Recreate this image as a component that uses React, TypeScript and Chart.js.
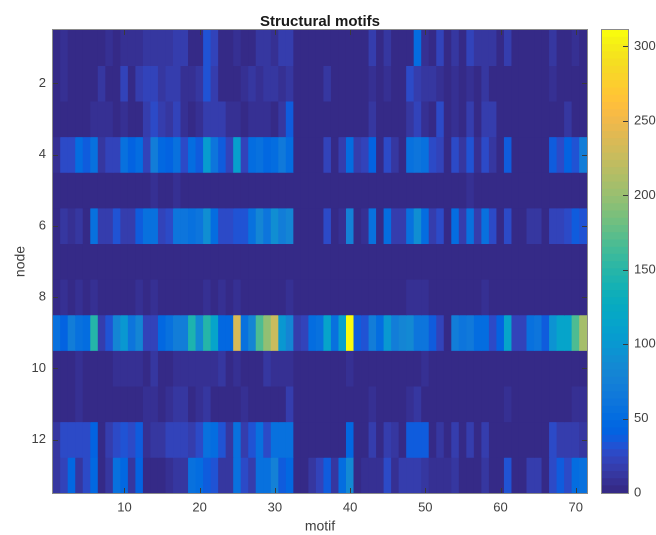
import React, { useEffect, useRef } from "react";
import { Chart, registerables } from "chart.js";

Chart.register(...registerables);

const motifs = Array.from({ length: 71 }, (_, i) => String(i + 1));
const nodeTicks = [2, 4, 6, 8, 10, 12];
const motifTicks = [10, 20, 30, 40, 50, 60, 70];
const colorbarTicks = [0, 50, 100, 150, 200, 250, 300];
const colorMax = 311;

const row1 = [3,8,3,3,3,3,3,8,2,9, 9,9,12,12,12,12,16,16,2,4, 30,24,2,2,6,2,2,12,12,5, 18,18,0,0,0,0,0,0,0,0, 0,0,18,2,12,2,2,4,50,6, 4,21,2,12,2,21,12,12,12,2, 16,1,1,1,1,1,12,2,2,8,1];
const row2 = [3,8,3,3,3,3,12,3,3,21, 3,15,20,24,10,16,18,8,8,11, 30,15,3,3,4,8,13,6,12,13, 5,11,0,0,0,0,10,0,0,0, 0,0,6,0,8,0,0,26,16,12, 12,8,3,8,2,6,3,12,0,0, 0,0,0,0,0,0,6,0,0,0,0];
const row3 = [1,1,1,1,1,8,8,8,2,5, 4,4,18,26,18,10,24,6,2,8, 15,15,15,8,6,3,8,8,8,4, 12,36,0,0,0,0,0,0,0,0, 0,0,12,0,0,0,0,10,21,6, 3,26,1,5,2,18,2,16,16,0, 0,0,0,0,0,0,0,0,12,0,0];
const row4 = [5,28,28,50,35,55,12,24,24,58, 40,52,22,72,45,42,55,25,52,35, 105,62,35,20,110,22,50,55,48,50, 65,50,0,0,0,2,20,2,15,52, 18,22,40,0,28,14,0,58,60,58, 25,22,0,25,10,30,8,28,14,0, 38,0,0,0,0,0,35,25,42,32,72];
const row5 = [0,0,0,0,0,0,0,0,0,0, 0,0,0,5,0,0,6,0,0,0, 0,0,0,0,0,0,0,0,0,0, 0,0,0,0,0,0,0,0,0,0, 0,0,0,0,0,0,0,0,0,0, 0,0,0,0,0,6,0,0,0,0, 0,0,0,0,0,0,0,0,0,0,0];
const row6 = [4,10,8,12,4,58,16,16,32,18, 18,38,55,55,20,28,60,60,55,62, 88,52,28,28,30,30,55,78,62,92, 70,82,0,0,0,0,28,0,8,75, 0,8,58,0,50,15,15,58,92,52, 18,25,0,52,15,58,18,55,25,0, 28,0,0,14,14,2,22,20,28,35,30];
const row7 = [0,0,0,0,0,0,0,0,0,0, 0,0,0,0,0,0,0,0,0,0, 0,0,0,0,0,0,0,0,0,0, 0,0,0,0,0,0,0,0,0,0, 0,0,0,0,0,0,0,0,0,0, 0,0,0,0,0,0,0,0,0,0, 0,0,0,0,0,0,0,0,0,0,0];
const row8 = [0,5,0,6,0,7,0,0,0,0, 0,6,0,6,0,0,0,0,0,0, 7,0,6,0,6,0,0,0,0,0, 0,9,0,0,0,0,0,0,0,0, 0,0,0,0,0,0,0,9,9,9, 0,0,0,0,0,0,0,7,0,0, 0,0,0,0,0,0,0,0,0,0,0];
const row9 = [55,42,72,55,52,150,18,32,78,100, 62,78,22,22,48,55,70,70,145,85, 150,115,45,45,235,55,80,170,195,225, 100,80,15,22,52,55,115,55,110,311, 38,30,70,50,100,70,80,85,62,62, 35,20,0,70,62,68,52,52,25,42, 115,20,20,55,60,35,95,112,112,170,205];
const row10 = [1,1,1,6,3,3,3,3,7,5, 5,7,2,10,4,4,7,5,5,5, 7,7,10,3,7,3,3,3,10,7, 6,6,0,0,0,0,0,0,0,6, 0,0,0,0,0,0,0,0,0,6, 0,0,0,0,0,0,0,0,0,0, 0,0,0,0,0,0,0,0,0,0,0];
const row11 = [1,1,1,5,1,1,1,1,1,1, 1,1,9,6,3,7,13,13,2,6, 10,4,4,4,2,7,2,2,4,4, 4,15,0,0,0,0,0,0,0,0, 0,0,6,0,0,0,0,7,13,0, 0,0,0,0,0,0,0,0,0,0, 7,0,0,0,0,0,0,0,0,9,9];
const row12 = [10,28,28,28,25,40,4,15,25,32, 25,35,5,14,12,20,20,20,15,28, 58,50,30,12,58,18,32,55,25,58, 55,55,0,0,0,0,0,0,0,48, 0,0,15,0,15,10,0,38,38,36, 0,10,0,15,0,15,0,18,0,0, 0,0,0,0,0,0,28,18,18,18,10];
const row13 = [12,20,45,12,28,48,4,12,58,48, 14,42,2,2,2,8,14,14,55,52, 35,30,10,10,55,25,15,55,58,75, 35,45,2,2,14,22,38,10,50,85, 4,8,8,8,25,8,18,18,18,12, 5,5,5,12,3,3,3,10,3,3, 30,3,3,16,16,4,28,38,28,52,55];
const rows = [row1, row2, row3, row4, row5, row6, row7, row8, row9, row10, row11, row12, row13];

const parula: number[][] = [
  [.2081,.1663,.5292],[.2116,.1898,.5777],[.2123,.2138,.627],[.2081,.2386,.6771],[.1959,.2645,.7279],[.1707,.2919,.7792],[.1253,.3242,.8303],[.0591,.3598,.8683],
  [.0117,.3875,.882],[.006,.4086,.8828],[.0165,.4266,.8786],[.0329,.443,.872],[.0498,.4586,.8641],[.0629,.4737,.8554],[.0723,.4887,.8467],[.0779,.504,.8384],
  [.0793,.52,.8312],[.0749,.5375,.8263],[.0641,.557,.824],[.0488,.5772,.8228],[.0343,.5966,.8199],[.0265,.6137,.8135],[.0239,.6287,.8038],[.0231,.6418,.7913],
  [.0228,.6535,.7768],[.0267,.6642,.7607],[.0384,.6743,.7436],[.059,.6838,.7254],[.0843,.6928,.7062],[.1133,.7015,.6859],[.1453,.7098,.6646],[.1801,.7177,.6424],
  [.2178,.725,.6193],[.2586,.7317,.5954],[.3022,.7376,.5712],[.3482,.7424,.5473],[.3953,.7459,.5244],[.442,.7481,.5033],[.4871,.7491,.484],[.53,.7491,.4661],
  [.5709,.7485,.4494],[.6099,.7473,.4337],[.6473,.7456,.4188],[.6834,.7435,.4044],[.7184,.7411,.3905],[.7525,.7384,.3768],[.7858,.7356,.3633],[.8185,.7327,.3498],
  [.8507,.7299,.336],[.8824,.7274,.3217],[.9139,.7258,.3063],[.945,.7261,.2886],[.9739,.7314,.2666],[.9938,.7455,.2403],[.999,.7653,.2164],[.9955,.7861,.1967],
  [.988,.8066,.1794],[.9789,.8271,.1633],[.9697,.8481,.1475],[.9626,.8705,.1309],[.9589,.8949,.1132],[.9598,.9218,.0948],[.9661,.9514,.0755],[.9763,.9831,.0538],
];

const levelColor = (i: number) => {
  const c = parula[Math.min(63, Math.max(0, i))];
  return `rgb(${Math.round(c[0] * 255)},${Math.round(c[1] * 255)},${Math.round(c[2] * 255)})`;
};
const valueColor = (v: number) => levelColor(Math.floor((v / colorMax) * 64));

const FONT = "'Liberation Sans', Arial, sans-serif";
const INK = "#404040";
const BOX = "#8a8a8a";

const boxPlugin = {
  id: "matlabBox",
  afterDatasetsDraw(chart: any) {
    const { ctx, chartArea: a, scales } = chart;
    ctx.save();
    ctx.lineWidth = 1;
    ctx.strokeStyle = "#3a3a3a";
    const len = 5;
    ctx.beginPath();
    const yScale = scales.y;
    const xScale = scales.x;
    if (xScale.options.display !== false) {
      motifTicks.forEach((t) => {
        const x = Math.round(xScale.getPixelForValue(t - 1)) + 0.5;
        ctx.moveTo(x, a.bottom);
        ctx.lineTo(x, a.bottom - len);
        ctx.moveTo(x, a.top);
        ctx.lineTo(x, a.top + len);
      });
    }
    yScale.ticks.forEach((t: any) => {
      const y = Math.round(yScale.getPixelForValue(t.value)) + 0.5;
      if (xScale.options.display !== false) {
        ctx.moveTo(a.left, y);
        ctx.lineTo(a.left + len, y);
      }
      ctx.moveTo(a.right, y);
      ctx.lineTo(a.right - len, y);
    });
    ctx.stroke();
    ctx.strokeStyle = BOX;
    ctx.strokeRect(Math.round(a.left) - 0.5, Math.round(a.top) - 0.5, a.right - a.left + 1, a.bottom - a.top + 1);
    ctx.restore();
  },
};

export default function App() {
  const mainRef = useRef<HTMLCanvasElement>(null);
  const barRef = useRef<HTMLCanvasElement>(null);

  useEffect(() => {
    const main = new Chart(mainRef.current!, {
      type: "bar",
      data: {
        labels: motifs,
        datasets: rows.map((row, r) => ({
          label: `node ${r + 1}`,
          stack: "heat",
          data: row.map(() => [r + 0.5, r + 1.5]) as any,
          backgroundColor: row.map(valueColor),
          borderWidth: 0,
          barPercentage: 1,
          categoryPercentage: 1,
        })),
      },
      options: {
        responsive: false,
        animation: false,
        devicePixelRatio: 2,
        layout: { padding: { top: 0, right: 69, left: 0, bottom: 0 } },
        plugins: {
          legend: { display: false },
          tooltip: { enabled: false },
          title: {
            display: true,
            text: "Structural motifs",
            fullSize: false,
            color: "#1a1a1a",
            font: { family: FONT, size: 15, weight: "bold", lineHeight: 1.2 },
            padding: { top: 13, bottom: -1 },
          },
        },
        scales: {
          x: {
            type: "category",
            stacked: true,
            grid: { display: false, drawTicks: false },
            border: { display: false },
            afterFit: (s: any) => { s.height = 42; },
            ticks: {
              autoSkip: false,
              maxRotation: 0,
              padding: 7,
              color: INK,
              font: { family: FONT, size: 13 },
              callback: (_v: any, i: number) => (motifTicks.includes(i + 1) ? String(i + 1) : ""),
            },
            title: { display: true, text: "motif", color: INK, font: { family: FONT, size: 14 }, padding: { top: 0, bottom: 0 } },
          },
          y: {
            type: "linear",
            stacked: false,
            reverse: true,
            min: 0.5,
            max: 13.5,
            grid: { display: false, drawTicks: false },
            border: { display: false },
            afterFit: (s: any) => { s.width = 53; },
            afterBuildTicks: (s: any) => { s.ticks = nodeTicks.map((value) => ({ value })); },
            ticks: { padding: 7, color: INK, font: { family: FONT, size: 13 } },
            title: { display: true, text: "node", color: INK, font: { family: FONT, size: 14 }, padding: { top: 12, bottom: 1 } },
          },
        },
      },
      plugins: [boxPlugin],
    } as any);

    const bar = new Chart(barRef.current!, {
      type: "bar",
      data: {
        labels: ["scale"],
        datasets: parula.map((_, i) => ({
          label: `level ${i}`,
          stack: "bar",
          data: [[(i * colorMax) / 64, ((i + 1) * colorMax) / 64]] as any,
          backgroundColor: levelColor(i),
          borderWidth: 0,
          barPercentage: 1,
          categoryPercentage: 1,
        })),
      },
      options: {
        responsive: false,
        animation: false,
        devicePixelRatio: 2,
        layout: { padding: { top: 30, left: 7, right: 0, bottom: 42 } },
        plugins: { legend: { display: false }, tooltip: { enabled: false } },
        scales: {
          x: { type: "category", stacked: true, display: false, grid: { display: false } },
          y: {
            type: "linear",
            stacked: false,
            position: "right",
            min: 0,
            max: colorMax,
            grid: { display: false, drawTicks: false },
            border: { display: false },
            afterFit: (s: any) => { s.width = 28; },
            afterBuildTicks: (s: any) => { s.ticks = colorbarTicks.map((value) => ({ value })); },
            ticks: { padding: 6, color: INK, font: { family: FONT, size: 13 } },
          },
        },
      },
      plugins: [boxPlugin],
    } as any);

    return () => {
      main.destroy();
      bar.destroy();
    };
  }, []);

  const soft = { position: "absolute", top: 0, filter: "blur(0.3px)" } as const;
  return (
    <div style={{ position: "fixed", left: 0, top: 0, width: 656, height: 535, background: "#fff", overflow: "hidden" }}>
      <canvas ref={mainRef} width={656} height={535} style={{ ...soft, left: 0 }} />
      <canvas ref={barRef} width={61} height={535} style={{ ...soft, left: 595 }} />
    </div>
  );
}
